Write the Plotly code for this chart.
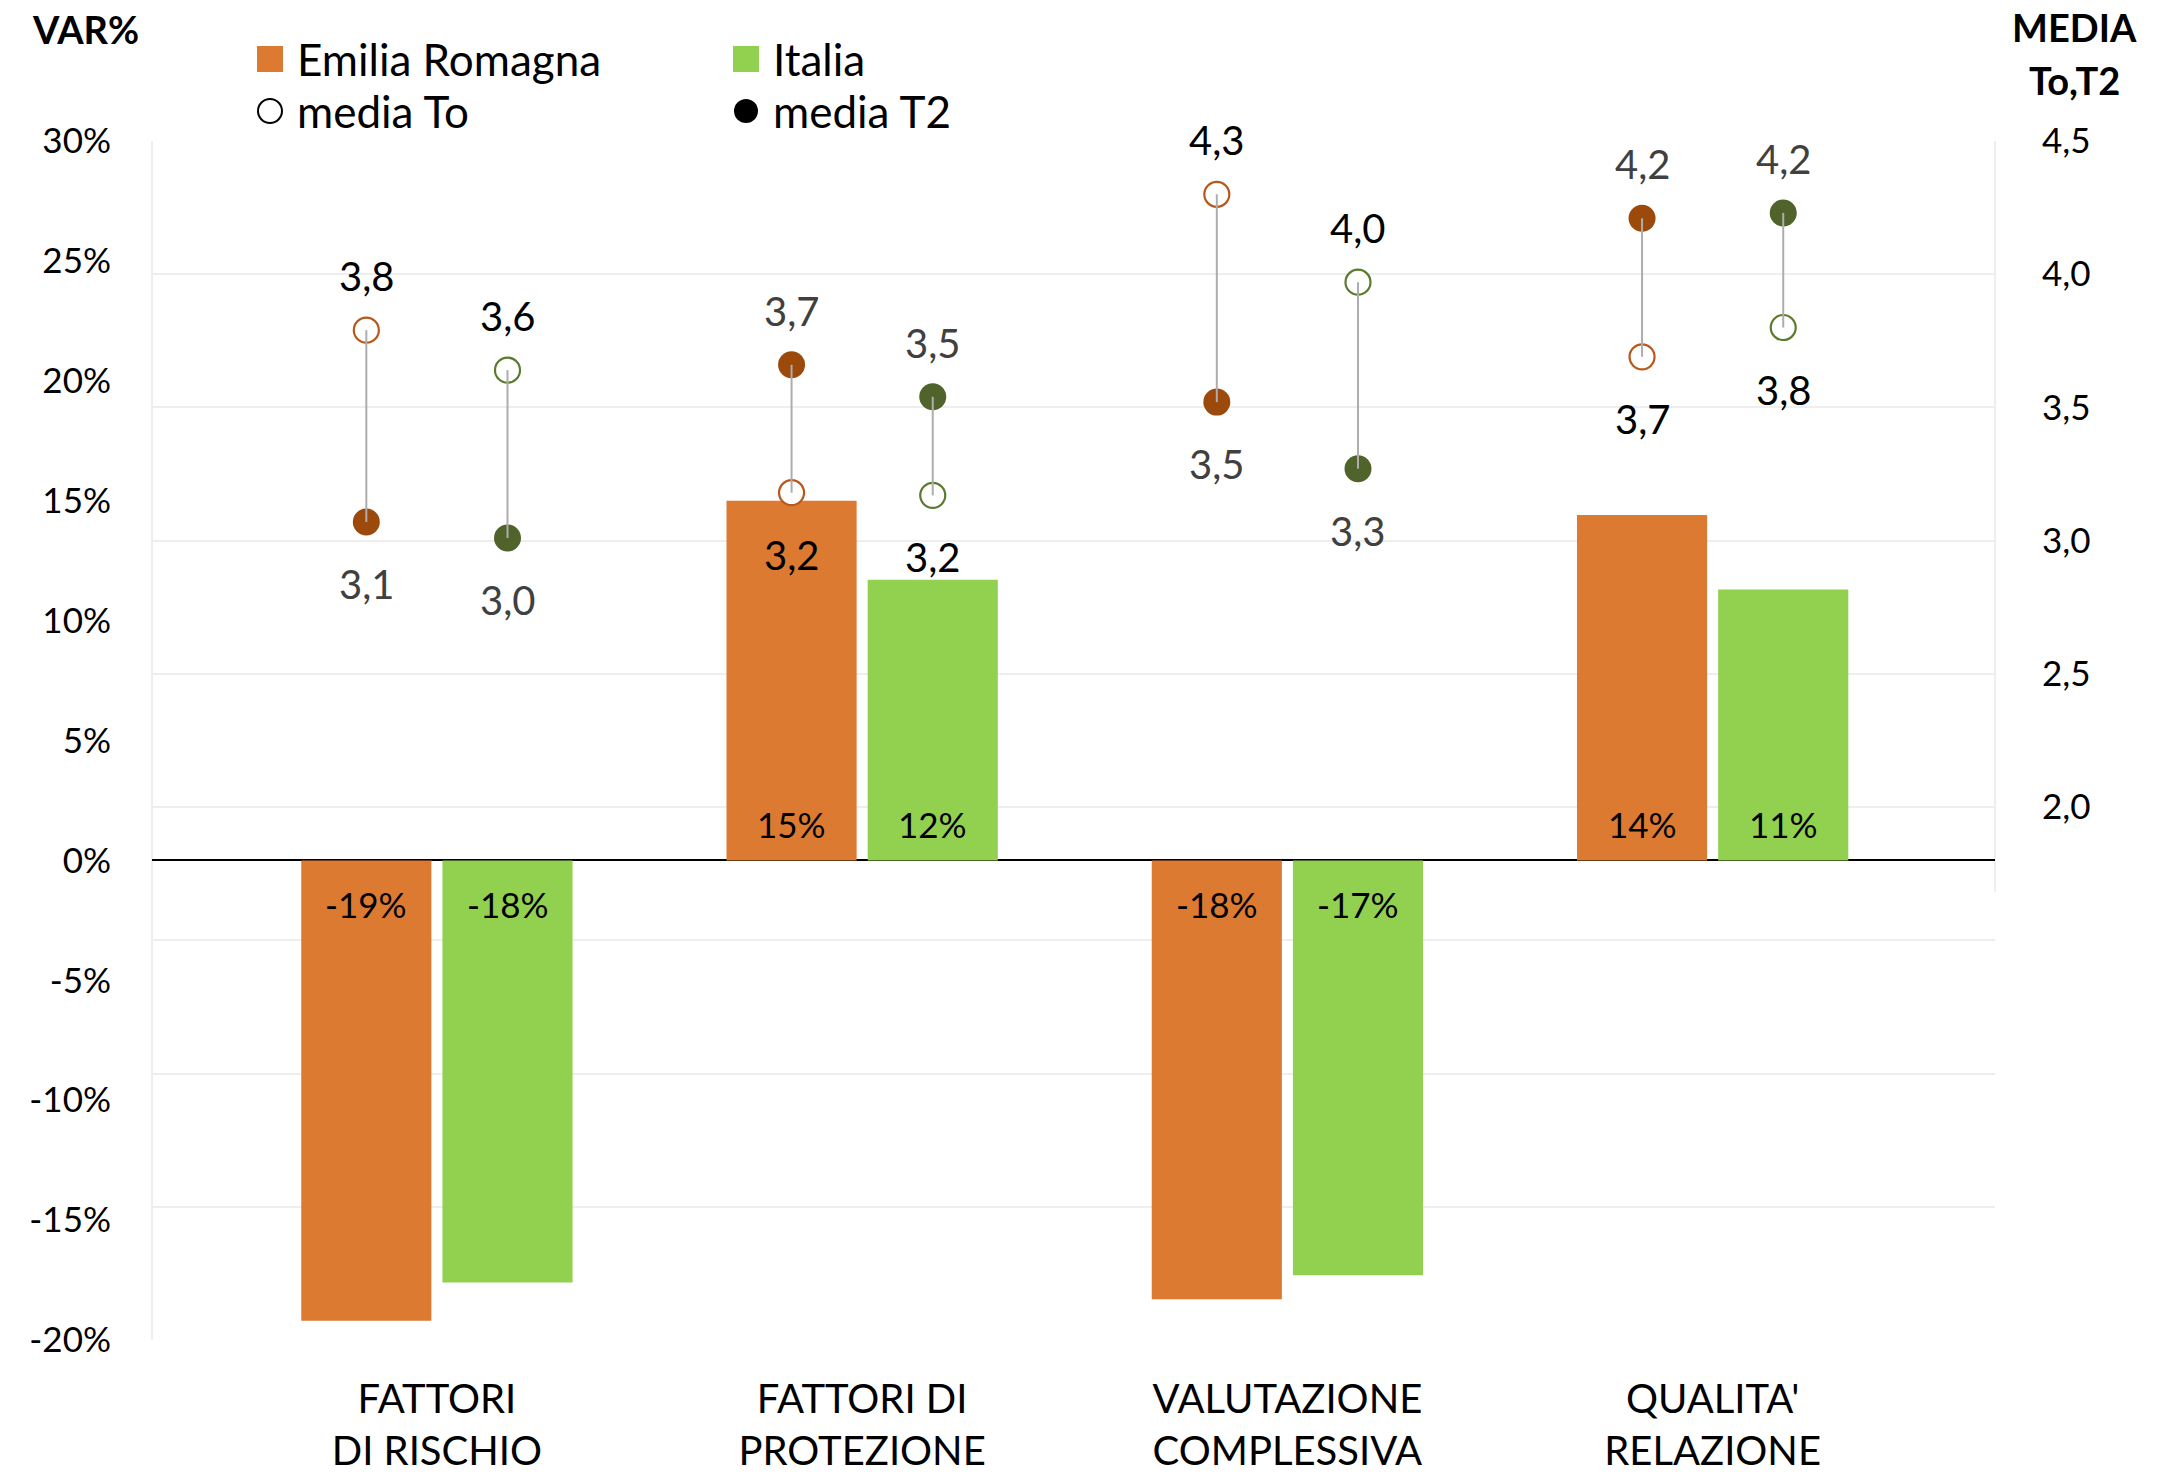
import plotly.graph_objects as go

# --- data -------------------------------------------------------------
categories = ["FATTORI<br>DI RISCHIO", "FATTORI DI<br>PROTEZIONE",
              "VALUTAZIONE<br>COMPLESSIVA", "QUALITA'<br>RELAZIONE"]
series_names = ["Emilia Romagna", "Italia"]
marker_names = ["media To", "media T2"]

# percentage change (left axis)
var_emilia = [-0.192, 0.150, -0.183, 0.144]
var_italia = [-0.176, 0.117, -0.173, 0.113]

# mean scores at To and T2 (right axis)
media_t0_emilia = [3.79, 3.18, 4.30, 3.69]
media_t2_emilia = [3.07, 3.66, 3.52, 4.21]
media_t0_italia = [3.64, 3.17, 3.97, 3.80]
media_t2_italia = [3.01, 3.54, 3.27, 4.23]

pct_ticks = [-0.20, -0.15, -0.10, -0.05, 0.0, 0.05, 0.10, 0.15, 0.20, 0.25, 0.30]
media_ticks = [0.0, 0.5, 1.0, 1.5, 2.0, 2.5, 3.0, 3.5, 4.0, 4.5]
media_first_label = 2.0

# --- styling ----------------------------------------------------------
FONT = "Lato"
BAR_COLORS = ["#DD7A32", "#92D050"]
DOT_FILL = ["#9C4A0C", "#50632A"]
DOT_RING = ["#B9561A", "#5B7A2E"]
T0_TEXT = "#000000"
T2_TEXT = "#404040"
GRID = "#EEEEEE"

W, H = 2168, 1481
ML, MR, MT, MB = 152, 173, 141, 141
PW, PH = W - ML - MR, H - MT - MB

OFFSET = 0.166       # half distance between the two bars of a group
BAR_W = 0.306


def px(x):
    return (x - ML) / PW


def py(y):
    return (H - MB - y) / PH


def fmt_media(v):
    return f"{v:.1f}".replace(".", ",")


def fmt_pct(v):
    return f"{round(v * 100):d}%"


def paper_text(x, y, text, font, xanchor="center"):
    return dict(x=px(x), y=py(y), xref="paper", yref="paper", text=text,
                showarrow=False, xanchor=xanchor, yanchor="middle", font=font)


idx = list(range(len(categories)))
fig = go.Figure()

groups = [
    (var_emilia, media_t0_emilia, media_t2_emilia, -OFFSET),
    (var_italia, media_t0_italia, media_t2_italia, +OFFSET),
]

# bars
for k, (var, _, _, off) in enumerate(groups):
    fig.add_trace(go.Bar(
        x=[i + off for i in idx], y=var, width=BAR_W,
        marker=dict(color=BAR_COLORS[k], line=dict(width=0)),
        name=series_names[k], showlegend=False, yaxis="y", hoverinfo="skip",
    ))

# To / T2 dots
for k, (_, t0, t2, off) in enumerate(groups):
    xs = [i + off for i in idx]
    fig.add_trace(go.Scatter(
        x=xs, y=t0, mode="markers", yaxis="y2", showlegend=False,
        marker=dict(size=25, color="white", line=dict(color=DOT_RING[k], width=2.2)),
        hoverinfo="skip",
    ))
    fig.add_trace(go.Scatter(
        x=xs, y=t2, mode="markers", yaxis="y2", showlegend=False,
        marker=dict(size=27, color=DOT_FILL[k], line=dict(width=0)),
        hoverinfo="skip",
    ))

# thin connectors between To and T2
for k, (_, t0, t2, off) in enumerate(groups):
    lx, ly = [], []
    for i in idx:
        lx += [i + off, i + off, None]
        ly += [t0[i], t2[i], None]
    fig.add_trace(go.Scatter(
        x=lx, y=ly, mode="lines", yaxis="y2", showlegend=False,
        line=dict(color="#ADADAD", width=2), hoverinfo="skip",
    ))

annotations = []

# value labels on the bars, next to the zero line
for k, (var, _, _, off) in enumerate(groups):
    for i in idx:
        v = var[i]
        annotations.append(dict(
            x=i + off, y=0, xref="x", yref="y", text=fmt_pct(v), showarrow=False,
            yshift=36 if v >= 0 else -44,
            font=dict(family=FONT, size=35, color="#000000"),
        ))

# value labels for To / T2 (above the higher one, below the lower one)
for k, (_, t0, t2, off) in enumerate(groups):
    for i in idx:
        pair = [(t0[i], T0_TEXT), (t2[i], T2_TEXT)]
        hi = max(pair, key=lambda p: p[0])
        lo = min(pair, key=lambda p: p[0])
        annotations.append(dict(
            x=i + off, y=hi[0], xref="x", yref="y2", text=fmt_media(hi[0]),
            showarrow=False, yshift=54, font=dict(family=FONT, size=40, color=hi[1]),
        ))
        annotations.append(dict(
            x=i + off, y=lo[0], xref="x", yref="y2", text=fmt_media(lo[0]),
            showarrow=False, yshift=-62, font=dict(family=FONT, size=40, color=lo[1]),
        ))

# axis titles
title_font = dict(family=FONT, size=38, color="#000000")
annotations += [
    paper_text(85, 29, "<b>VAR%</b>", title_font),
    paper_text(2074, 27, "<b>MEDIA</b>", title_font),
    paper_text(2074, 80, "<b>To,T2</b>", title_font),
]

# legend (two rows, two columns)
legend_text_font = dict(family=FONT, size=44, color="#000000")
shapes = []
legend_cols = [257, 733]
row_y = [59, 111]
for k in range(2):
    x0 = legend_cols[k]
    shapes.append(dict(type="rect", xref="paper", yref="paper",
                       x0=px(x0), x1=px(x0 + 26), y0=py(row_y[0] + 13), y1=py(row_y[0] - 13),
                       fillcolor=BAR_COLORS[k], line=dict(width=0)))
    annotations.append(paper_text(x0 + 38, row_y[0], series_names[k], legend_text_font,
                                  xanchor="left"))
# marker legend entries
shapes.append(dict(type="circle", xref="paper", yref="paper",
                   x0=px(legend_cols[0] + 1), x1=px(legend_cols[0] + 25),
                   y0=py(row_y[1] + 12), y1=py(row_y[1] - 12),
                   fillcolor="white", line=dict(color="#000000", width=2)))
shapes.append(dict(type="circle", xref="paper", yref="paper",
                   x0=px(legend_cols[1] + 1), x1=px(legend_cols[1] + 25),
                   y0=py(row_y[1] + 12), y1=py(row_y[1] - 12),
                   fillcolor="#000000", line=dict(width=0)))
for k in range(2):
    annotations.append(paper_text(legend_cols[k] + 38, row_y[1], marker_names[k],
                                  legend_text_font, xanchor="left"))

# plot-area side borders
shapes.append(dict(type="line", xref="paper", yref="paper", x0=0, x1=0, y0=0, y1=1,
                   line=dict(color=GRID, width=2), layer="below"))
shapes.append(dict(type="line", xref="paper", yref="paper", x0=1, x1=1, y0=py(892), y1=1,
                   line=dict(color=GRID, width=2), layer="below"))

fig.update_layout(
    width=W, height=H,
    margin=dict(l=ML, r=MR, t=MT, b=MB, pad=0, autoexpand=False),
    paper_bgcolor="white", plot_bgcolor="white",
    font=dict(family=FONT, color="#000000"),
    barmode="overlay",
    showlegend=False,
    annotations=annotations,
    shapes=shapes,
    xaxis=dict(
        range=[-0.670, 3.664], tickmode="array", tickvals=idx, ticktext=categories,
        showgrid=False, zeroline=False, showline=False, ticks="", automargin=False,
        tickfont=dict(family=FONT, size=40, color="#000000"),
        ticklabelstandoff=32,
    ),
    yaxis=dict(
        range=[-0.20, 0.30], tickmode="array", tickvals=pct_ticks,
        ticktext=[fmt_pct(v) for v in pct_ticks], automargin=False,
        showgrid=False, zeroline=True, zerolinecolor="#000000", zerolinewidth=2,
        showline=False, ticks="", ticklabelstandoff=40,
        tickfont=dict(family=FONT, size=35, color="#000000"),
    ),
    yaxis2=dict(
        range=[0, 4.5], overlaying="y", side="right", tickmode="array",
        tickvals=media_ticks, automargin=False,
        ticktext=[fmt_media(v) if v >= media_first_label else "" for v in media_ticks],
        showgrid=True, gridcolor=GRID, gridwidth=2, zeroline=False,
        showline=False, ticks="", ticklabelstandoff=46,
        tickfont=dict(family=FONT, size=35, color="#000000"),
    ),
)

fig.write_html("out.html")
